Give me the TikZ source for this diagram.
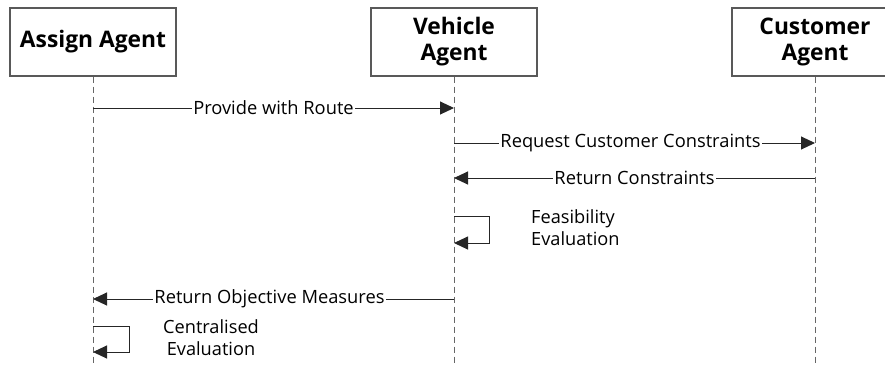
\documentclass[tikz,border=0pt]{standalone}
\usepackage{fontspec}
\setmainfont{Open Sans}
\usetikzlibrary{arrows.meta}

\tikzset{
  agent/.style={draw=black!65, fill=white, line width=1.2pt, minimum width=166pt, minimum height=68pt,
    align=center, font=\bfseries\fontsize{22.8}{26}\selectfont},
  life/.style={draw=black!60, line width=1pt, dash pattern=on 6pt off 4pt},
  msg/.style={draw=black!85, line width=1pt, -{Triangle[length=14pt,width=13pt]}},
  lbl/.style={fill=white, inner sep=1pt, font=\fontsize{18.3}{22}\selectfont},
  note/.style={inner sep=0pt, font=\fontsize{18.2}{22}\selectfont},
}

\begin{document}
\begin{tikzpicture}[x=1pt, y=-1pt]
	\clip (0,0) rectangle (885,365);
	\node[agent] (AA) at (93,42) {Assign Agent};
	\node[agent] (VA) at (454,42) {Vehicle\\Agent};
	\node[agent] (CA) at (815,42) {Customer\\Agent};
	% lifelines
	\foreach \a in {AA,VA,CA}
		\draw[life] (\a.south) -- (\a |- 0,366);
	% message ends on the lifelines
	\path (AA |- 0,108) coordinate (a1) (VA |- 0,108) coordinate (v1);
	\path (VA |- 0,143) coordinate (v2) (CA |- 0,143) coordinate (c2);
	\path (VA |- 0,178) coordinate (v3) (CA |- 0,178) coordinate (c3);
	\path (VA |- 0,216) coordinate (v4) (VA |- 0,243) coordinate (v5);
	\path (VA |- 0,299) coordinate (v6) (AA |- 0,299) coordinate (a6);
	\path (AA |- 0,326) coordinate (a7) (AA |- 0,352) coordinate (a8);
	% messages
	\draw[msg] (a1) -- node[lbl] {Provide with Route} (v1);
	\draw[msg] (v2) -- node[lbl, xshift=-4pt] {Request Customer Constraints} (c2);
	\draw[msg] (c3) -- node[lbl] {Return Constraints} (v3);
	\draw[msg] (v4) -- ++(35,0) |- (v5);
	\node[note, anchor=west, align=left] (FE) at (531,228) {Feasibility\\Evaluation};
	\draw[msg] (v6) -- node[lbl, xshift=-4pt] {Return Objective Measures} (a6);
	\draw[msg] (a7) -- ++(36,0) |- (a8);
	\node[note, align=center] (CE) at (211,338) {Centralised\\Evaluation};
\end{tikzpicture}
\end{document}
